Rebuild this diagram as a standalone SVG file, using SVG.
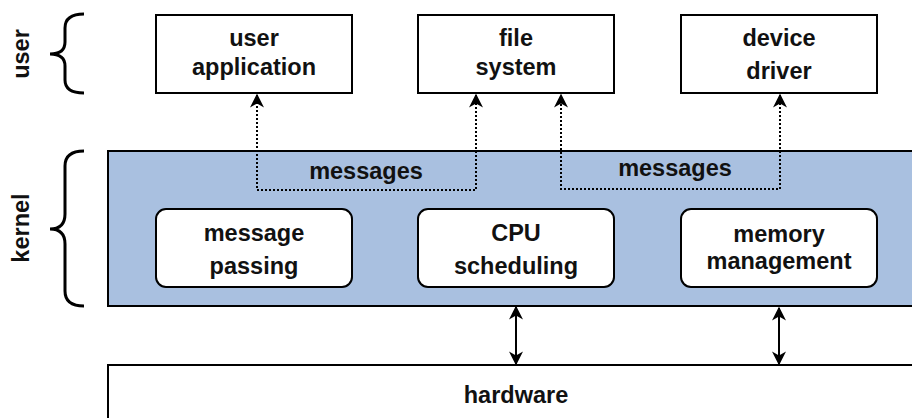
<svg xmlns="http://www.w3.org/2000/svg" width="912" height="418" viewBox="0 0 912 418">
  <defs>
    <style>
      .box { fill: #ffffff; stroke: #000000; stroke-width: 2; }
      .layer { stroke: #000000; stroke-width: 2; }
      .lbl { font-family: "Liberation Sans", Arial, sans-serif; font-weight: bold; font-size: 23.5px; fill: #111111; text-anchor: middle; }
      .dot { fill: none; stroke: #000000; stroke-width: 2; stroke-dasharray: 2 2; }
      .solid { fill: none; stroke: #000000; stroke-width: 2; }
      .brace { fill: none; stroke: #000000; stroke-width: 3; }
    </style>
    <marker id="arrB" viewBox="0 0 10 10" refX="9" refY="5" markerWidth="14" markerHeight="14" markerUnits="userSpaceOnUse" orient="auto-start-reverse">
      <path d="M0,0 L10,5 L0,10 L3,5 Z" fill="#000000"/>
    </marker>
  </defs>

  <!-- layers -->
  <g id="kernel-layer">
    <rect class="layer" x="108" y="151" width="812" height="155" fill="#a9c0e0"/>
  </g>
  <g id="hardware">
    <rect class="layer" x="108" y="365" width="812" height="60" fill="#ffffff"/>
    <text class="lbl" x="516" y="403">hardware</text>
  </g>

  <!-- side braces and labels -->
  <g id="user-brace">
    <path class="brace" d="M84,14 Q65,14 65,28 L65,42 Q65,54 50,54 Q65,54 65,66 L65,80 Q65,93 84,93"/>
    <text class="lbl" transform="translate(29,54) rotate(-90)">user</text>
  </g>
  <g id="kernel-brace">
    <path class="brace" d="M84,151 Q65,151 65,166 L65,214 Q65,229 50,229 Q65,229 65,244 L65,291 Q65,306 84,306"/>
    <text class="lbl" transform="translate(29,228) rotate(-90)">kernel</text>
  </g>

  <!-- user space nodes -->
  <g id="user-application">
    <rect class="box" x="156" y="15" width="196" height="78"/>
    <text class="lbl" x="254" y="46">user</text>
    <text class="lbl" x="254" y="75">application</text>
  </g>
  <g id="file-system">
    <rect class="box" x="418" y="15" width="196" height="78"/>
    <text class="lbl" x="516" y="46">file</text>
    <text class="lbl" x="516" y="75">system</text>
  </g>
  <g id="device-driver">
    <rect class="box" x="681" y="15" width="196" height="78"/>
    <text class="lbl" x="779" y="46">device</text>
    <text class="lbl" x="779" y="79">driver</text>
  </g>

  <!-- kernel nodes -->
  <g id="message-passing">
    <rect class="box" x="156" y="209" width="196" height="78" rx="10"/>
    <text class="lbl" x="254" y="241">message</text>
    <text class="lbl" x="254" y="274">passing</text>
  </g>
  <g id="cpu-scheduling">
    <rect class="box" x="418" y="209" width="196" height="78" rx="10"/>
    <text class="lbl" x="516" y="241">CPU</text>
    <text class="lbl" x="516" y="274">scheduling</text>
  </g>
  <g id="memory-management">
    <rect class="box" x="681" y="209" width="196" height="78" rx="10"/>
    <text class="lbl" x="779" y="242">memory</text>
    <text class="lbl" x="779" y="269">management</text>
  </g>

  <!-- connectors -->
  <g id="connectors">
    <path class="dot" d="M476,95 L476,190 L257,190 L257,95" marker-start="url(#arrB)" marker-end="url(#arrB)"/>
    <path class="dot" d="M780,95 L780,189 L561,189 L561,95" marker-start="url(#arrB)" marker-end="url(#arrB)"/>
    <text class="lbl" x="366" y="179">messages</text>
    <text class="lbl" x="675" y="176">messages</text>
    <path class="solid" d="M516,307 L516,364" marker-start="url(#arrB)" marker-end="url(#arrB)"/>
    <path class="solid" d="M779,308 L779,364" marker-start="url(#arrB)" marker-end="url(#arrB)"/>
  </g>
</svg>
